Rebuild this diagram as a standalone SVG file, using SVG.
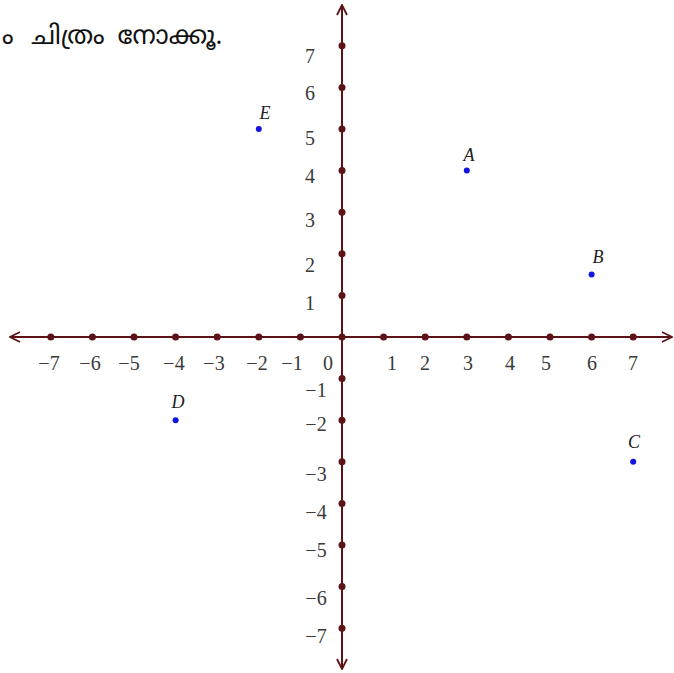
<svg xmlns="http://www.w3.org/2000/svg" width="674" height="673" viewBox="0 0 674 673">
<style>
.ax{stroke:#5c1216;stroke-width:2;fill:none}
.tk{fill:#5c1216}
.lb{font-family:"Liberation Serif","DejaVu Serif",serif;font-size:20px;fill:#3a3a3a;text-anchor:middle}
.pl{font-family:"Liberation Serif","DejaVu Serif",serif;font-size:18px;font-style:italic;fill:#222;text-anchor:middle}
.pt{fill:#1414e0}
.ml{font-family:"Noto Sans Malayalam","Noto Sans","DejaVu Sans",sans-serif;font-size:25.5px;fill:#111;word-spacing:5px}
</style>
<defs>
<marker id="ah" viewBox="0 0 12 12" refX="11" refY="6" markerWidth="12" markerHeight="12" markerUnits="userSpaceOnUse" orient="auto">
<path d="M1,1 L11,6 L1,11" fill="none" stroke="#5c1216" stroke-width="1.8"/>
</marker>
</defs>
<text class="ml" x="-6" y="44">&#160;ം ചിത്രം നോക്കൂ.</text>
<g id="connectors">
<line class="ax" x1="342" y1="337" x2="10" y2="337" marker-end="url(#ah)"/>
<line class="ax" x1="342" y1="337" x2="672" y2="337" marker-end="url(#ah)"/>
<line class="ax" x1="342" y1="337" x2="342" y2="5" marker-end="url(#ah)"/>
<line class="ax" x1="342" y1="337" x2="342" y2="669" marker-end="url(#ah)"/>
</g>
<g id="ticks">
<circle class="tk" cx="50.8" cy="337" r="3.5"/><circle class="tk" cx="92.4" cy="337" r="3.5"/><circle class="tk" cx="134" cy="337" r="3.5"/><circle class="tk" cx="175.6" cy="337" r="3.5"/><circle class="tk" cx="217.2" cy="337" r="3.5"/><circle class="tk" cx="258.8" cy="337" r="3.5"/><circle class="tk" cx="300.4" cy="337" r="3.5"/><circle class="tk" cx="342" cy="337" r="3.5"/><circle class="tk" cx="383.6" cy="337" r="3.5"/><circle class="tk" cx="425.2" cy="337" r="3.5"/><circle class="tk" cx="466.8" cy="337" r="3.5"/><circle class="tk" cx="508.4" cy="337" r="3.5"/><circle class="tk" cx="550" cy="337" r="3.5"/><circle class="tk" cx="591.6" cy="337" r="3.5"/><circle class="tk" cx="633.2" cy="337" r="3.5"/>
<circle class="tk" cx="342" cy="45.8" r="3.5"/><circle class="tk" cx="342" cy="87.4" r="3.5"/><circle class="tk" cx="342" cy="129" r="3.5"/><circle class="tk" cx="342" cy="170.6" r="3.5"/><circle class="tk" cx="342" cy="212.2" r="3.5"/><circle class="tk" cx="342" cy="253.8" r="3.5"/><circle class="tk" cx="342" cy="295.4" r="3.5"/><circle class="tk" cx="342" cy="378.6" r="3.5"/><circle class="tk" cx="342" cy="420.2" r="3.5"/><circle class="tk" cx="342" cy="461.8" r="3.5"/><circle class="tk" cx="342" cy="503.4" r="3.5"/><circle class="tk" cx="342" cy="545" r="3.5"/><circle class="tk" cx="342" cy="586.6" r="3.5"/><circle class="tk" cx="342" cy="628.2" r="3.5"/>
</g>
<g id="xlabels">
<text class="lb" x="49" y="370">−7</text><text class="lb" x="90" y="370">−6</text><text class="lb" x="129" y="370">−5</text><text class="lb" x="174" y="370">−4</text><text class="lb" x="214" y="370">−3</text><text class="lb" x="257" y="370">−2</text><text class="lb" x="292" y="370">−1</text><text class="lb" x="328" y="370">0</text><text class="lb" x="392" y="370">1</text><text class="lb" x="425" y="370">2</text><text class="lb" x="468" y="370">3</text><text class="lb" x="510" y="370">4</text><text class="lb" x="546" y="370">5</text><text class="lb" x="592" y="370">6</text><text class="lb" x="633" y="370">7</text>
</g>
<g id="ylabels">
<text class="lb" x="310" y="63">7</text><text class="lb" x="310" y="100">6</text><text class="lb" x="310" y="145">5</text><text class="lb" x="310" y="183">4</text><text class="lb" x="310" y="227">3</text><text class="lb" x="310" y="272">2</text><text class="lb" x="310" y="310">1</text>
<text class="lb" x="316" y="397">−1</text><text class="lb" x="316" y="431">−2</text><text class="lb" x="316" y="481">−3</text><text class="lb" x="316" y="519">−4</text><text class="lb" x="316" y="557">−5</text><text class="lb" x="316" y="605">−6</text><text class="lb" x="316" y="643">−7</text>
</g>
<g id="A"><circle class="pt" cx="466.8" cy="170.6" r="3"/><text class="pl" x="469" y="161">A</text></g>
<g id="B"><circle class="pt" cx="591.6" cy="274.6" r="3"/><text class="pl" x="598" y="263">B</text></g>
<g id="C"><circle class="pt" cx="633.2" cy="461.8" r="3"/><text class="pl" x="634" y="448">C</text></g>
<g id="D"><circle class="pt" cx="175.6" cy="420.2" r="3"/><text class="pl" x="178" y="408">D</text></g>
<g id="E"><circle class="pt" cx="258.8" cy="129" r="3"/><text class="pl" x="265" y="119">E</text></g>
</svg>
